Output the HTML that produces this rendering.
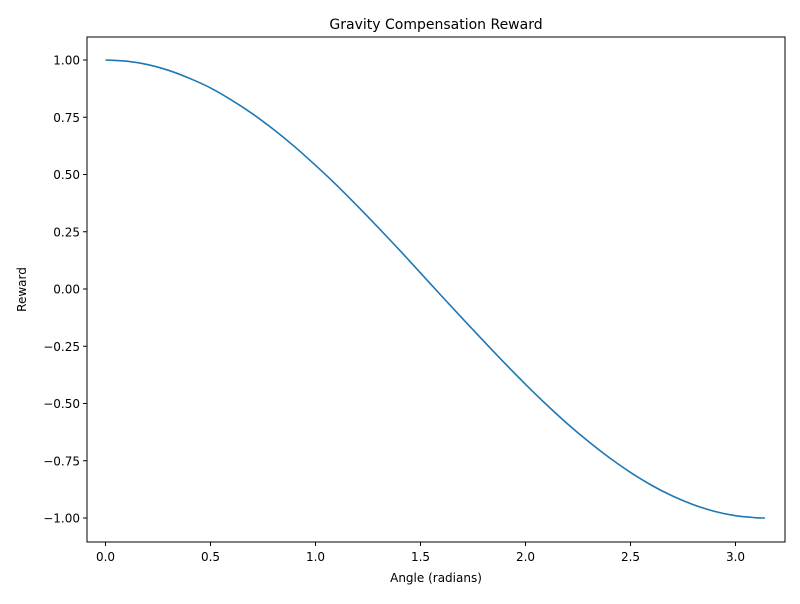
<!DOCTYPE html>
<html><head><meta charset="utf-8"><style>
body{margin:0;background:#fff;font-family:"DejaVu Sans","Liberation Sans",sans-serif}
</style></head><body>
<svg id="chart" width="800" height="600" xmlns="http://www.w3.org/2000/svg" font-family="DejaVu Sans, Liberation Sans, sans-serif">
<rect width="800" height="600" fill="#fff"/>
<g id="axes"></g>
</svg>
<script>
const angles=[0,0.1,0.2,0.3,0.4,0.5,0.6,0.7,0.8,0.9,1.0,1.1,1.2,1.3,1.4,1.5,1.6,1.7,1.8,1.9,2.0,2.1,2.2,2.3,2.4,2.5,2.6,2.7,2.8,2.9,3.0,3.1,3.14];
const rewards=[1.00,0.995,0.98,0.955,0.92,0.878,0.825,0.765,0.697,0.622,0.54,0.454,0.362,0.267,0.17,0.07,-0.03,-0.129,-0.227,-0.323,-0.416,-0.505,-0.589,-0.666,-0.737,-0.801,-0.857,-0.904,-0.942,-0.971,-0.99,-0.999,-1.00];
const xTicks=[0,0.5,1.0,1.5,2.0,2.5,3.0];
const xTickLabels=["0.0","0.5","1.0","1.5","2.0","2.5","3.0"];
const yTicks=[1,0.75,0.5,0.25,0,-0.25,-0.5,-0.75,-1];
const yTickLabels=["1.00","0.75","0.50","0.25","0.00","\u22120.25","\u22120.50","\u22120.75","\u22121.00"];
const L=87,R=785,T=37,B=542;
const xs=v=>105.5+210*v;
const ys=v=>289-229*v;
const g=document.getElementById('axes');
const NS='http://www.w3.org/2000/svg';
function mk(t,a){const e=document.createElementNS(NS,t);for(const k in a)e.setAttribute(k,a[k]);g.appendChild(e);return e;}
let d='M'+xs(angles[0]).toFixed(2)+','+ys(rewards[0]).toFixed(2);
for(let i=1;i<angles.length;i++){
 const p0=i>1?i-2:i-1,p1=i-1,p2=i,p3=i<angles.length-1?i+1:i;
 const X=k=>xs(angles[k]),Y=k=>ys(rewards[k]);
 const c1x=X(p1)+(X(p2)-X(p0))/6,c1y=Y(p1)+(Y(p2)-Y(p0))/6;
 const c2x=X(p2)-(X(p3)-X(p1))/6,c2y=Y(p2)-(Y(p3)-Y(p1))/6;
 d+=' C'+c1x.toFixed(2)+','+c1y.toFixed(2)+' '+c2x.toFixed(2)+','+c2y.toFixed(2)+' '+X(p2).toFixed(2)+','+Y(p2).toFixed(2);
}
const line=mk('path',{d:d,fill:'none',stroke:'#1f77b4','stroke-width':1.6});


const frame=mk('rect',{x:L,y:T,width:R-L,height:B-T,fill:'none',stroke:'#000','stroke-width':1});


xTicks.forEach((v,i)=>{
 const x=xs(v);
 const tk=mk('line',{x1:x,x2:x,y1:B,y2:B+4,stroke:'#000'});
 
 
 const t=mk('text',{x:x,y:B+19,'text-anchor':'middle','font-size':12,fill:'#000'});
 t.textContent=xTickLabels[i];
 
 
});
yTicks.forEach((v,i)=>{
 const y=ys(v);
 const tk=mk('line',{x1:L-4,x2:L,y1:y,y2:y,stroke:'#000'});
 
 
 const t=mk('text',{x:L-7,y:y+4.5,'text-anchor':'end','font-size':12,fill:'#000'});
 t.textContent=yTickLabels[i];
 
 
});
const title=mk('text',{x:(L+R)/2,y:29,'text-anchor':'middle','font-size':14,fill:'#000'});
title.textContent='Gravity Compensation Reward';


const xl=mk('text',{x:(L+R)/2,y:582,'text-anchor':'middle','font-size':12,fill:'#000'});
xl.textContent='Angle (radians)';


const yl=mk('text',{x:26,y:(T+B)/2,'text-anchor':'middle','font-size':12,fill:'#000',transform:'rotate(-90 26 '+((T+B)/2)+')'});
yl.textContent='Reward';


</script>
</body></html>
